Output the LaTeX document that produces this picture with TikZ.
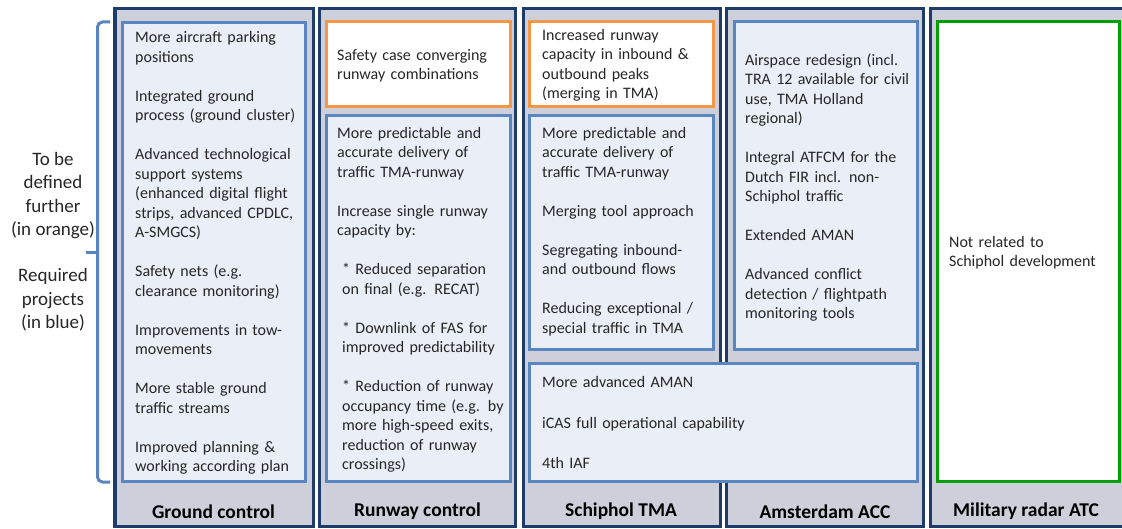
\documentclass[tikz,border=0pt]{standalone}
\usepackage{fontspec}
\setmainfont{Carlito}
\usetikzlibrary{positioning}

\definecolor{colfill}{HTML}{CDD0DA}
\definecolor{colline}{HTML}{1F3B68}
\definecolor{projline}{HTML}{5A86BF}
\definecolor{projfill}{HTML}{EAEEF6}
\definecolor{todoline}{HTML}{F79646}
\definecolor{milline}{HTML}{00A000}
\definecolor{txt}{HTML}{262626}

\newcommand{\gapline}{\\[19.5pt]}

\tikzset{
  column/.style={draw=colline, line width=3.3pt, fill=colfill},
  project/.style={draw=projline, line width=3pt, fill=projfill},
  todo/.style={draw=todoline, line width=3pt, fill=white},
  military/.style={draw=milline, line width=3pt, fill=white},
  itemtext/.style={anchor=base west, inner sep=0pt, text width=175pt, align=left,
    font=\fontsize{16}{19.5}\selectfont, text=txt},
  coltitle/.style={font=\fontsize{19.5}{22}\selectfont\bfseries, text=black},
  sidetext/.style={align=center, font=\fontsize{19}{23.5}\selectfont, text=txt},
  brace/.style={draw=projline, line width=3pt}
}

\begin{document}
\begin{tikzpicture}[x=1pt,y=-1pt]
    \useasboundingbox (0,0) rectangle (1122,529);
    \clip (0,0) rectangle (1122,529);

    % Spalten
    \foreach \xa/\xb in {115/313.5, 319.5/515.5, 523.5/720.5, 726.5/923.5, 930.5/1130} {
        \draw[column] (\xa,8.8) rectangle (\xb,526.5);
    }

    % Kaesten (blau = erforderlich, orange = noch zu definieren)
    \draw[project] (122.5,22.5) rectangle (305.5,481.5);
    \draw[todo] (326.5,21.5) rectangle (510.5,106.5);
    \draw[project] (326.5,115.5) rectangle (510.5,481.5);
    \draw[todo] (529.5,21.5) rectangle (713.5,106.5);
    \draw[project] (529.5,115.5) rectangle (713.5,349.5);
    \draw[project] (734.5,21.5) rectangle (917.5,349.5);
    \draw[project] (529.5,363.5) rectangle (917.5,481.5);
    \draw[military] (937.5,21.5) rectangle (1119.5,481.5);

    % Ground control
    \node[itemtext] (gcitems) at (135,43) {More aircraft parking\\ positions\gapline
        Integrated ground\\ process (ground cluster)\gapline
        Advanced technological\\ support systems\\ (enhanced digital flight\\ strips, advanced CPDLC,\\ A-SMGCS)\gapline
        Safety nets (e.g.\\ clearance monitoring)\gapline
        Improvements in tow-\\ movements\gapline
        More stable ground\\ traffic streams\gapline
        Improved planning \&\\ working according plan};

    % Runway control
    \node[itemtext] (rcopen) at (337,60.5) {Safety case converging\\ runway combinations};
    \node[itemtext] (rcitems) at (337,138.5) {More predictable and\\ accurate delivery of\\ traffic TMA-runway\gapline
        Increase single runway\\ capacity by:\gapline
        \hspace*{5pt}* Reduced separation\\ \hspace*{5pt}on final (e.g. RECAT)\gapline
        \hspace*{5pt}* Downlink of FAS for\\ \hspace*{5pt}improved predictability\gapline
        \hspace*{5pt}* Reduction of runway\\ \hspace*{5pt}occupancy time (e.g. by\\ \hspace*{5pt}more high-speed exits,\\ \hspace*{5pt}reduction of runway\\ \hspace*{5pt}crossings)};

    % Schiphol TMA
    \node[itemtext] (tmaopen) at (542,40.5) {Increased runway\\ capacity in inbound \&\\ outbound peaks\\ (merging in TMA)};
    \node[itemtext] (tmaitems) at (542,138.5) {More predictable and\\ accurate delivery of\\ traffic TMA-runway\gapline
        Merging tool approach\gapline
        Segregating inbound-\\ and outbound flows\gapline
        Reducing exceptional /\\ special traffic in TMA};
    \node[itemtext, text width=360pt] (sharedit) at (542,387.5) {More advanced AMAN\\[21pt]
        iCAS full operational capability\\[21pt]
        4th IAF};

    % Amsterdam ACC
    \node[itemtext] (accitems) at (745,65.5) {Airspace redesign (incl.\\ TRA 12 available for civil\\ use, TMA Holland\\ regional)\gapline
        Integral ATFCM for the\\ Dutch FIR incl. non-\\ Schiphol traffic\gapline
        Extended AMAN\gapline
        Advanced conflict\\ detection / flightpath\\ monitoring tools};

    % Military radar ATC
    \node[itemtext] (milnote) at (949,247.5) {Not related to\\ Schiphol development};

    % Spaltentitel
    \node[coltitle] (gctitle) at (213.5,511.5) {Ground control};
    \node[coltitle] (rctitle) at (417.5,511.5) {Runway control};
    \node[coltitle] (tmatitle) at (621,511.5) {Schiphol TMA};
    \node[coltitle] (acctitle) at (825,511.5) {Amsterdam ACC};
    \node[coltitle] (miltitle) at (1026,511.5) {Military radar ATC};

    % Klammer und Legende
    \draw[brace, rounded corners=5pt] (110,22) -- (97.5,22) -- (97.5,482) -- (110,482);
    \draw[brace] (97.5,253) -- (86,253);
    \node[sidetext] (orangenote) at (53,195.5) {To be\\ defined\\ further\\ (in orange)};
    \node[sidetext] (bluenote) at (53,300) {Required\\ projects\\ (in blue)};

\end{tikzpicture}
\end{document}
